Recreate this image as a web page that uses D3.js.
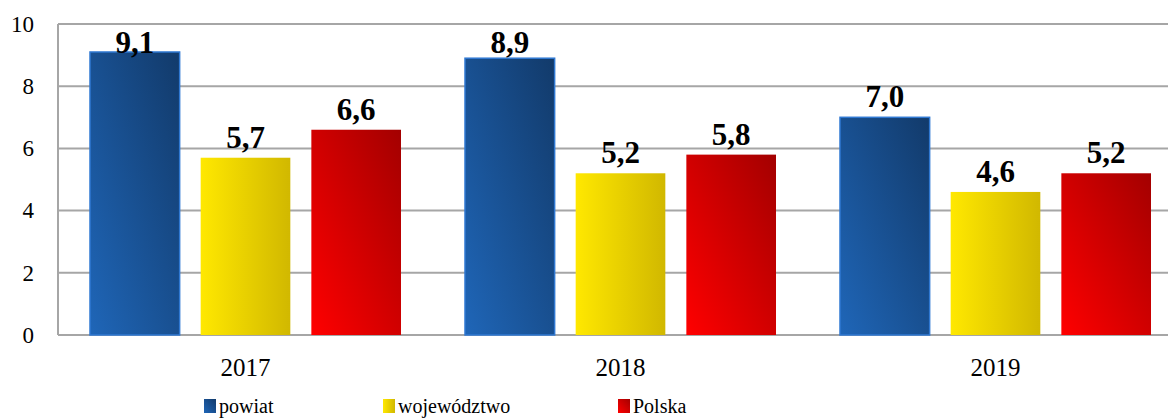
<!DOCTYPE html>
<html>
<head>
<meta charset="utf-8">
<script src="https://cdn.jsdelivr.net/npm/d3@7"></script>
<style>
  body { margin: 0; background: #fff; }
</style>
</head>
<body>
<div id="chart-area"></div>
<script>
// dane
var years = ["2017", "2018", "2019"];
var seriesNames = ["powiat", "województwo", "Polska"];
var powiat = [9.1, 8.9, 7.0];
var wojewodztwo = [5.7, 5.2, 4.6];
var polska = [6.6, 5.8, 5.2];
var yTicks = [0, 2, 4, 6, 8, 10];

var FONT = "Liberation Serif";
var margin = {left: 58, right: -15, top: 24, bottom: 83};
var W = 1168, H = 418;
var width = W - margin.left - margin.right;
var height = H - margin.top - margin.bottom;

var svg = d3.select("#chart-area")
    .append("svg")
        .attr("width", W)
        .attr("height", H);

// gradienty
var defs = svg.append("defs");
function grad(id, x2, y1, stops) {
    var gr = defs.append("linearGradient")
        .attr("id", id)
        .attr("x1", 0).attr("y1", y1)
        .attr("x2", x2).attr("y2", 0);
    stops.forEach(function(s) {
        gr.append("stop").attr("offset", s[0]).attr("stop-color", s[1]);
    });
}
grad("g0", 1, 1, [[0, "#1f66b8"], [1, "#123a6a"]]);
grad("g1", 1, 0, [[0, "#ffe800"], [1, "#d1b800"]]);
grad("g2", 1, 1, [[0, "#ff0000"], [1, "#a30000"]]);
var fills = ["url(#g0)", "url(#g1)", "url(#g2)"];

var g = svg.append("g")
    .attr("transform", "translate(" + margin.left + "," + margin.top + ")");

var x0 = d3.scaleBand()
    .domain(years)
    .range([0, width]);

var x1 = d3.scaleBand()
    .domain(seriesNames)
    .range([32, x0.bandwidth() - 32])
    .paddingInner(0.19);

var y = d3.scaleLinear()
    .domain([0, 10])
    .range([height, 0]);

// siatka
g.selectAll(".grid")
    .data(yTicks)
    .enter().append("line")
        .attr("x1", 0)
        .attr("x2", width)
        .attr("y1", function(d){ return y(d); })
        .attr("y2", function(d){ return y(d); })
        .attr("stroke", "#a6a6a6")
        .attr("stroke-width", 2);

g.append("line")
    .attr("x1", 0).attr("x2", 0)
    .attr("y1", 0).attr("y2", height)
    .attr("stroke", "#a6a6a6")
    .attr("stroke-width", 2);

// oś Y
var yAxis = d3.axisLeft(y).tickValues(yTicks).tickSize(0).tickPadding(24);
g.append("g").call(yAxis)
    .attr("font-family", FONT)
    .attr("font-size", 23)
    .call(function(a){ a.select(".domain").remove(); })
    .selectAll("text")
        .attr("fill", "#000");

// oś X
var xAxis = d3.axisBottom(x0).tickSize(0).tickPadding(23);
g.append("g")
    .attr("transform", "translate(0," + height + ")")
    .call(xAxis)
    .attr("font-family", FONT)
    .attr("font-size", 25)
    .call(function(a){ a.select(".domain").remove(); })
    .selectAll("text")
        .attr("fill", "#000");

var rows = [];
years.forEach(function(yr, i) {
    rows.push({year: yr, s: 0, v: powiat[i]});
    rows.push({year: yr, s: 1, v: wojewodztwo[i]});
    rows.push({year: yr, s: 2, v: polska[i]});
});

g.selectAll("rect.bar")
    .data(rows)
    .enter().append("rect")
        .attr("class", "bar")
        .attr("x", function(d){ return x0(d.year) + x1(seriesNames[d.s]); })
        .attr("y", function(d){ return y(d.v); })
        .attr("width", x1.bandwidth())
        .attr("height", function(d){ return height - y(d.v); })
        .attr("fill", function(d){ return fills[d.s]; })
        .attr("stroke", function(d){ return d.s == 0 ? "#2f78d2" : "none"; })
        .attr("stroke-width", 1.5);

g.selectAll("text.lbl")
    .data(rows)
    .enter().append("text")
        .attr("class", "lbl")
        .attr("x", function(d){ return x0(d.year) + x1(seriesNames[d.s]) + x1.bandwidth() / 2; })
        .attr("y", function(d){ return Math.max(y(d.v) - 10, 29); })
        .attr("text-anchor", "middle")
        .attr("font-family", FONT)
        .attr("font-size", 31)
        .attr("font-weight", "bold")
        .text(function(d){ return d.v.toFixed(1).replace(".", ","); });

// legenda
var legX = [204, 383, 618];
var leg = svg.selectAll(".leg")
    .data(seriesNames)
    .enter().append("g")
        .attr("transform", function(d, i){ return "translate(" + legX[i] + ",399)"; });
leg.append("rect")
    .attr("width", 12).attr("height", 14)
    .attr("fill", function(d, i){ return fills[i]; });
leg.append("text")
    .attr("x", 15).attr("y", 14)
    .attr("font-family", FONT)
    .attr("font-size", 20)
    .text(function(d){ return d; });
</script>
</body>
</html>
